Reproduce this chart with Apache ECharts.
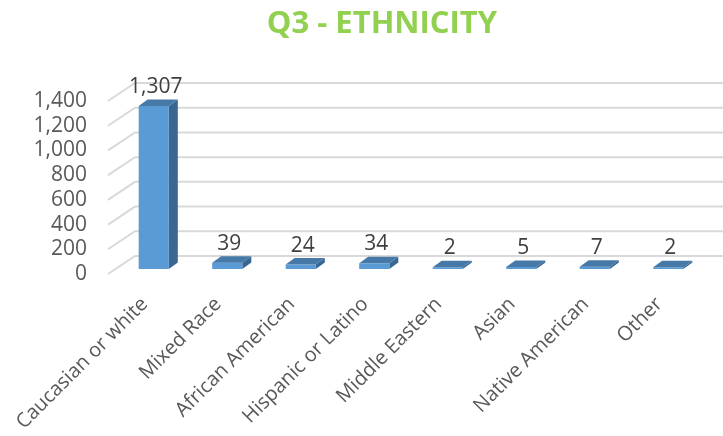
<!DOCTYPE html>
<html>
<head>
<meta charset="utf-8">
<script src="https://cdn.jsdelivr.net/npm/echarts@6/dist/echarts.min.js"></script>
<style>
  html, body { margin: 0; padding: 0; background: #ffffff; }
  #main { width: 723px; height: 436px; }
</style>
</head>
<body>
<div id="main"></div>
<script>
var categories = ["Caucasian or white", "Mixed Race", "African American", "Hispanic or Latino", "Middle Eastern", "Asian", "Native American", "Other"]
var values = [1307, 39, 24, 34, 2, 5, 7, 2]
var yTicks = [0, 200, 400, 600, 800, 1000, 1200, 1400]

// 3D 效果的偏移量（像素）
var DX = 27
var DY = -18
var FX = 9 // 柱子正面相对前平面的偏移
var FY = -5
var BX = 9 // 柱子深度
var BY = -6.5

var chart = echarts.init(document.getElementById("main"))

function fmt(v) {
  return Number(v).toLocaleString("en-US")
}

var option = {
  animation: false,
  title: {
    text: "Q3 - ETHNICITY",
    left: 377,
    top: 4,
    textAlign: "center",
    textStyle: { color: "#92D050", fontSize: 31, fontWeight: "bold", fontFamily: "Open Sans" }
  },
  grid: { left: 108, width: 588, top: 101, height: 173, outerBoundsMode: "none", containLabel: false },
  xAxis: {
    type: "category",
    data: categories,
    axisLine: { show: false },
    axisTick: { show: false },
    axisLabel: { rotate: 45, margin: 27, fontSize: 20, color: "#595959", fontFamily: "Open Sans", interval: 0 }
  },
  yAxis: {
    type: "value",
    min: 0,
    max: 1400,
    interval: 200,
    axisLine: { show: false },
    axisTick: { show: false },
    splitLine: { show: false },
    axisLabel: { margin: 21, fontSize: 21, color: "#595959", fontFamily: "Open Sans", formatter: fmt }
  },
  series: [
    {
      // 背景网格线（后墙 + 左侧斜线）
      type: "custom",
      z: 1,
      silent: true,
      data: yTicks.map(function (t) { return [0, t] }),
      renderItem: function (params, api) {
        var cs = params.coordSys
        var y = api.coord([0, api.value(1)])[1]
        return {
          type: "polyline",
          shape: { points: [[cs.x, y], [cs.x + DX, y + DY], [cs.x + cs.width + DX, y + DY]] },
          style: { stroke: "#D9D9D9", lineWidth: 2, fill: null }
        }
      }
    },
    {
      // 3D 柱子
      type: "custom",
      z: 2,
      data: values.map(function (v, i) { return [i, v] }),
      renderItem: function (params, api) {
        var i = api.value(0)
        var v = api.value(1)
        var c0 = api.coord([i, 0])
        var c1 = api.coord([i, v])
        var w = api.size([1, 0])[0] * 0.41
        var cx = c0[0] + FX
        var x0 = cx - w / 2
        var x1 = cx + w / 2
        var yb = c0[1] + FY
        var yt = c1[1] + FY - 1.5
        return {
          type: "group",
          children: [
            {
              type: "polygon",
              shape: { points: [[x1, yt], [x1 + BX, yt + BY], [x1 + BX, yb + BY], [x1, yb]] },
              style: { fill: "#3A6791" }
            },
            {
              type: "rect",
              shape: { x: x0, y: yt, width: w, height: yb - yt },
              style: { fill: "#5B9BD5" }
            },
            {
              type: "polygon",
              shape: { points: [[x0, yt], [x1, yt], [x1 + BX, yt + BY], [x0 + BX, yt + BY]] },
              style: { fill: "#4678A8" }
            },
            {
              type: "text",
              style: {
                x: cx + 2,
                y: yt - 19,
                text: fmt(v),
                align: "center",
                verticalAlign: "middle",
                fontSize: 21,
                fontFamily: "Open Sans",
                fill: "#404040"
              }
            }
          ]
        }
      }
    }
  ]
}

chart.setOption(option)
</script>
</body>
</html>
